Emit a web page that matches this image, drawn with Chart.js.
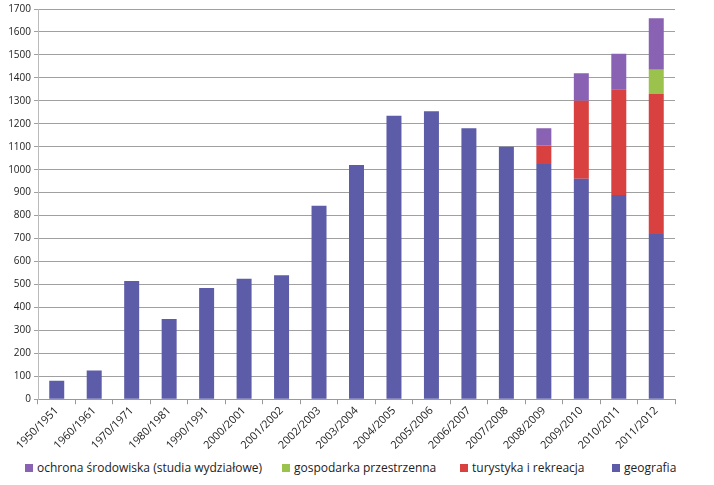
<!DOCTYPE html>
<html>
<head>
<meta charset="utf-8">
<script src="https://cdn.jsdelivr.net/npm/chart.js@4/dist/chart.umd.min.js"></script>
<style>
  html, body { margin: 0; padding: 0; background: #fff; }
  #wrap { position: relative; width: 714px; height: 485px; }
  #myChart { position: absolute; left: 0; top: 0; }
  .leg { position: absolute; top: 460px; font: 12px 'Open Sans', 'DejaVu Sans', sans-serif; color: #222; white-space: nowrap; line-height: 16px; }
  .leg i { display: inline-block; width: 8px; height: 8px; margin-right: 4px; vertical-align: 0px; }
</style>
</head>
<body>
<div id="wrap">
  <canvas id="myChart" width="714" height="454"></canvas>
  <div id="legend"></div>
</div>
<script>
var years = ['1950/1951', '1960/1961', '1970/1971', '1980/1981', '1990/1991', '2000/2001', '2001/2002', '2002/2003', '2003/2004',
  '2004/2005', '2005/2006', '2006/2007', '2007/2008', '2008/2009', '2009/2010', '2010/2011', '2011/2012'];
var geografia = [80, 125, 515, 350, 485, 525, 540, 843, 1020, 1235, 1255, 1180, 1100, 1025, 960, 890, 720];
var turystyka = [0, 0, 0, 0, 0, 0, 0, 0, 0, 0, 0, 0, 0, 80, 340, 460, 610];
var gospodarka = [0, 0, 0, 0, 0, 0, 0, 0, 0, 0, 0, 0, 0, 0, 0, 0, 105];
var ochrona = [0, 0, 0, 0, 0, 0, 0, 0, 0, 0, 0, 0, 0, 75, 120, 155, 225];
var yTicks = [0, 100, 200, 300, 400, 500, 600, 700, 800, 900, 1000, 1100, 1200, 1300, 1400, 1500, 1600, 1700];

var font = "'Open Sans', 'DejaVu Sans', sans-serif";

var chart = new Chart('myChart', {
  type: 'bar',
  data: {
    labels: years,
    datasets: [
      { label: 'geografia', data: geografia, backgroundColor: '#5c5ca9' },
      { label: 'turystyka i rekreacja', data: turystyka, backgroundColor: '#d8413f' },
      { label: 'gospodarka przestrzenna', data: gospodarka, backgroundColor: '#9cc24e' },
      { label: 'ochrona środowiska (studia wydziałowe)', data: ochrona, backgroundColor: '#8a62b3' }
    ]
  },
  options: {
    responsive: false,
    animation: false,
    layout: { padding: { left: 4, right: 39, top: 9, bottom: 2 } },
    datasets: { bar: { barPercentage: 0.4, categoryPercentage: 1.0 } },
    plugins: {
      tooltip: { enabled: false },
      legend: { display: false }
    },
    scales: {
      x: {
        stacked: true,
        grid: { display: true, drawOnChartArea: false, offset: true, color: '#999', tickLength: 5 },
        border: { color: '#999' },
        ticks: {
          color: '#222',
          maxRotation: 45,
          minRotation: 45,
          padding: 0,
          font: { family: font, size: 11 }
        }
      },
      y: {
        stacked: true,
        min: 0,
        max: 1700,
        afterBuildTicks: function (axis) {
          axis.ticks = yTicks.map(function (v) { return { value: v }; });
        },
        afterFit: function (axis) { axis.width = 34; },
        grid: { color: '#a0a0a0', tickLength: 4 },
        border: { color: '#bbb' },
        ticks: {
          color: '#222',
          padding: 3,
          font: { family: font, size: 10 },
          callback: function (v) { return String(v); }
        }
      }
    }
  }
});

// legend in reference order (top of stack first), HTML text
var legX = [25, 282, 460, 612];
var legHtml = '';
chart.data.datasets.slice().reverse().forEach(function (ds, i) {
  legHtml += '<div class="leg" style="left:' + legX[i] + 'px"><i style="background:' + ds.backgroundColor + '"></i>' + ds.label + '</div>';
});
document.getElementById('legend').innerHTML = legHtml;
</script>
</body>
</html>
